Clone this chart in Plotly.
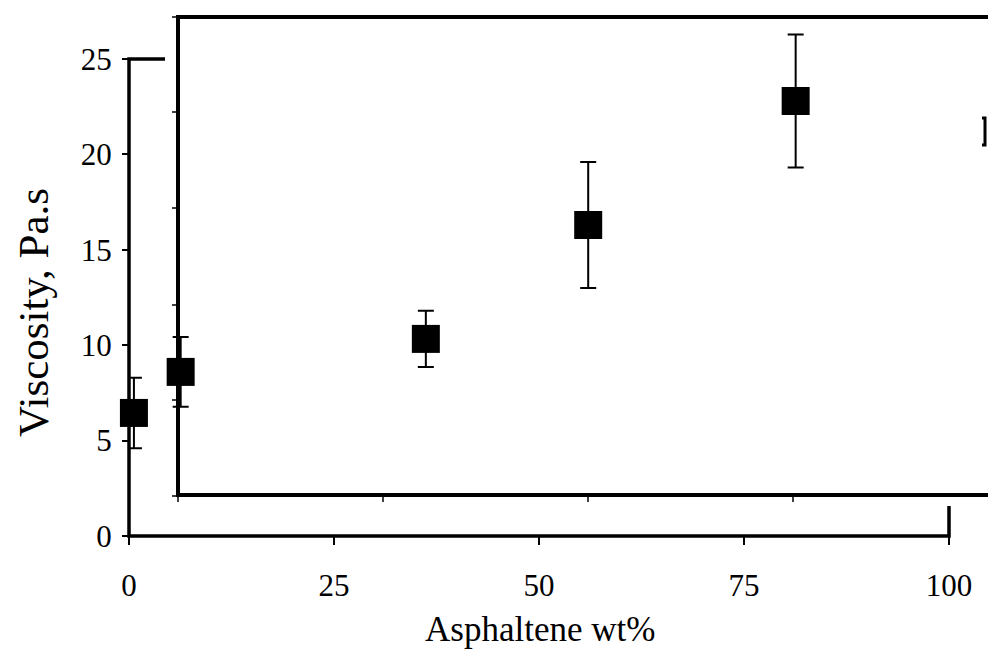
import plotly.graph_objects as go

# Measured viscosity of asphaltene blends
asphaltene_wt = [0.6, 6.3, 36.2, 56.0, 81.3]
viscosity = [6.45, 8.6, 10.33, 16.3, 22.8]
viscosity_err = [1.85, 1.83, 1.47, 3.3, 3.49]

x_ticks = [0, 25, 50, 75, 100]
y_ticks = [0, 5, 10, 15, 20, 25]

FONT = "Liberation Serif"

# pixel geometry of the axes box
W, H = 988, 653
L, R = 129, 949          # x = 0 and x = 100
Y25, B = 59, 536         # y = 25 and y = 0
T = 0                    # plot area runs to the top so tall error bars are not clipped
y_top = 25 * (B - T) / (B - Y25)


def px(xp):
    return (xp - L) / (R - L)


def py(yp):
    return (B - yp) / (B - T)


fig = go.Figure()
fig.add_trace(go.Scatter(
    x=asphaltene_wt, y=viscosity, mode="markers",
    marker=dict(symbol="square", size=28, color="black", line=dict(width=0)),
    error_y=dict(type="data", array=viscosity_err, visible=True,
                 color="black", thickness=2, width=8),
    showlegend=False, cliponaxis=False,
))

lw = 3.5
shapes = []
# offset inner frame (open on the right)
shapes.append(dict(type="path", xref="paper", yref="paper", layer="below",
                   path=f"M {px(996)},{py(17)} L {px(178)},{py(17)} L {px(178)},{py(495)} L {px(996)},{py(495)}",
                   line=dict(color="black", width=4)))
for yy in [17, 112, 208, 305, 400, 496]:
    shapes.append(dict(type="line", xref="paper", yref="paper",
                       x0=px(172), x1=px(178), y0=py(yy), y1=py(yy),
                       line=dict(color="black", width=1.5)))
for xx in [178, 383, 588, 793]:
    shapes.append(dict(type="line", xref="paper", yref="paper",
                       x0=px(xx), x1=px(xx), y0=py(495), y1=py(502),
                       line=dict(color="black", width=1.5)))
# outer axes: left and bottom edges with the visible stubs of top and right
shapes.append(dict(type="path", xref="paper", yref="paper", layer="below",
                   path=(f"M {px(165)},{py(Y25)} L {px(L)},{py(Y25)} L {px(L)},{py(B)} "
                         f"L {px(R)},{py(B)} L {px(R)},{py(506)}"),
                   line=dict(color="black", width=lw)))
# small bracket at right edge
shapes.append(dict(type="path", xref="paper", yref="paper",
                   path=f"M {px(982)},{py(118)} L {px(985)},{py(118)} L {px(985)},{py(145)} L {px(982)},{py(145)}",
                   line=dict(color="black", width=3)))

fig.update_layout(
    width=W, height=H,
    margin=dict(l=L, r=W - R, t=T, b=H - B),
    paper_bgcolor="white", plot_bgcolor="white",
    font=dict(family=FONT, color="black", size=31),
    shapes=shapes,
    xaxis=dict(range=[0, 100], tickvals=x_ticks, ticktext=[str(v) for v in x_ticks],
               showline=False,
               ticks="outside", ticklen=8, tickwidth=1.5, tickcolor="black",
               ticklabelstandoff=14, showgrid=False, zeroline=False,
               tickfont=dict(family=FONT, size=31)),
    yaxis=dict(range=[0, y_top], tickvals=y_ticks, ticktext=[str(v) for v in y_ticks],
               showline=False,
               ticks="outside", ticklen=6, tickwidth=1.5, tickcolor="black",
               ticklabelstandoff=4, showgrid=False, zeroline=False,
               tickfont=dict(family=FONT, size=31)),
    annotations=[
        dict(text="Asphaltene wt%", xref="paper", yref="paper",
             x=px(540), y=py(629), showarrow=False,
             font=dict(family=FONT, size=35), xanchor="center", yanchor="middle"),
        dict(text="Viscosity, Pa.s", xref="paper", yref="paper",
             x=px(34), y=py(313), showarrow=False, textangle=-90,
             font=dict(family=FONT, size=43), xanchor="center", yanchor="middle"),
    ],
)

fig.write_html("out.html")
